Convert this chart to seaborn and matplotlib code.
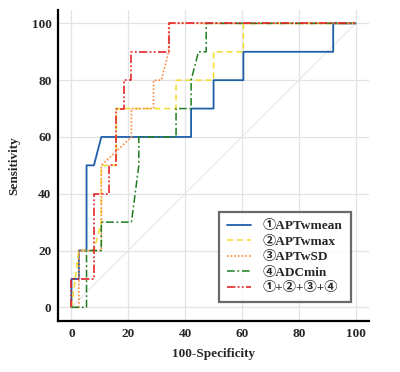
import matplotlib
matplotlib.use('Agg')
import matplotlib.pyplot as plt
import seaborn as sns
import pandas as pd

# ── Data: ROC curve vertices (100-Specificity, Sensitivity) ──────────
apt_mean_x = [0, 0, 2.6, 2.6, 5.3, 5.3, 7.9, 10.5, 42.1, 42.1, 50, 50, 60.5, 60.5, 92.1, 92.1, 100]
apt_mean_y = [0, 10, 10, 20, 20, 50, 50, 60, 60, 70, 70, 80, 80, 90, 90, 100, 100]

apt_max_x = [0, 2.6, 7.9, 10.5, 10.5, 15.8, 15.8, 36.8, 36.8, 50, 50, 60.5, 60.5, 100]
apt_max_y = [0, 20, 20, 30, 50, 50, 70, 70, 80, 80, 90, 90, 100, 100]

apt_sd_x = [0, 2.6, 2.6, 10.5, 10.5, 21.1, 21.1, 28.9, 28.9, 31.6, 34.2, 34.2, 100]
apt_sd_y = [0, 0, 20, 20, 50, 60, 70, 70, 80, 80, 90, 100, 100]

adc_min_x = [0, 5.3, 5.3, 10.5, 10.5, 21.1, 23.7, 23.7, 36.8, 36.8, 42.1, 42.1, 44.7, 47.4, 47.4, 100]
adc_min_y = [0, 0, 20, 20, 30, 30, 50, 60, 60, 70, 70, 80, 90, 90, 100, 100]

combo_x = [0, 0, 7.9, 7.9, 13.2, 13.2, 15.8, 15.8, 18.4, 18.4, 21.1, 21.1, 34.2, 34.2, 100]
combo_y = [0, 10, 10, 40, 40, 50, 50, 70, 70, 80, 80, 90, 90, 100, 100]

labels = ['①APTwmean', '②APTwmax', '③APTwSD', '④ADCmin', '①+②+③+④']
xs = [apt_mean_x, apt_max_x, apt_sd_x, adc_min_x, combo_x]
ys = [apt_mean_y, apt_max_y, apt_sd_y, adc_min_y, combo_y]

colors = ['#1f5ea8', '#f2dc2a', '#ff8a3d', '#1e7d1e', '#e3262a']
styles = ['-', (0, (4, 2.5)), (0, (1, 1.2)), (0, (5, 1.8, 1.2, 1.8)),
          (0, (5, 1.4, 1.1, 1.4, 1.1, 1.4))]
widths = [1.3, 1.1, 1.2, 1.1, 1.2]

# ── Plot ─────────────────────────────────────────────────────────────
sns.set_style('white')
serif = ['Liberation Serif', 'Noto Sans CJK SC', 'DejaVu Sans']

fig = plt.figure(figsize=(4.0, 3.72), dpi=100)
ax = fig.add_axes([0.146, 0.138, 0.7765, 0.835])

ax.plot([0, 100], [0, 100], color='#e6e6e6', lw=0.8, zorder=1)

for x, y, lab, c, ls, w in zip(xs, ys, labels, colors, styles, widths):
    df = pd.DataFrame({'x': x, 'y': y})
    sns.lineplot(data=df, x='x', y='y', sort=False, estimator=None,
                 color=c, lw=w, linestyle=ls, label=lab, ax=ax, zorder=3)

ax.set_xlim(-4.6, 104.7)
ax.set_ylim(-4.7, 104.7)
ax.set_xticks(range(0, 101, 20))
ax.set_yticks(range(0, 101, 20))
ax.set_xticks(range(0, 101, 5), minor=True)
ax.set_yticks(range(0, 101, 5), minor=True)
ax.grid(True, which='major', color='#e3e3e3', lw=0.9, zorder=0)

for side in ['top', 'right']:
    ax.spines[side].set_visible(False)
for side in ['left', 'bottom']:
    ax.spines[side].set_linewidth(1.6)
    ax.spines[side].set_color('black')

ax.tick_params(which='major', direction='in', length=7, width=1.1, color='#333333', pad=5)
ax.tick_params(which='minor', direction='in', length=4, width=1.0, color='#333333')
for t in ax.get_xticklabels() + ax.get_yticklabels():
    t.set_fontfamily(serif)
    t.set_fontweight('bold')
    t.set_fontsize(9.5)

ax.set_xlabel('100-Specificity', fontsize=9.5, fontweight='bold', family=serif, labelpad=6)
ax.set_ylabel('Sensitivity', fontsize=9.5, fontweight='bold', family=serif, labelpad=8)

leg = ax.legend(loc='lower right', bbox_to_anchor=(0.941, 0.059), borderaxespad=0,
                frameon=True, fancybox=False, handlelength=1.8, handletextpad=0.9,
                labelspacing=0.25, borderpad=0.6,
                prop={'family': serif, 'weight': 'bold', 'size': 9.5})
leg.get_frame().set_edgecolor('#444444')
leg.get_frame().set_linewidth(1.6)
leg.set_zorder(5)

plt.savefig('out.png', dpi=100)
plt.close()
